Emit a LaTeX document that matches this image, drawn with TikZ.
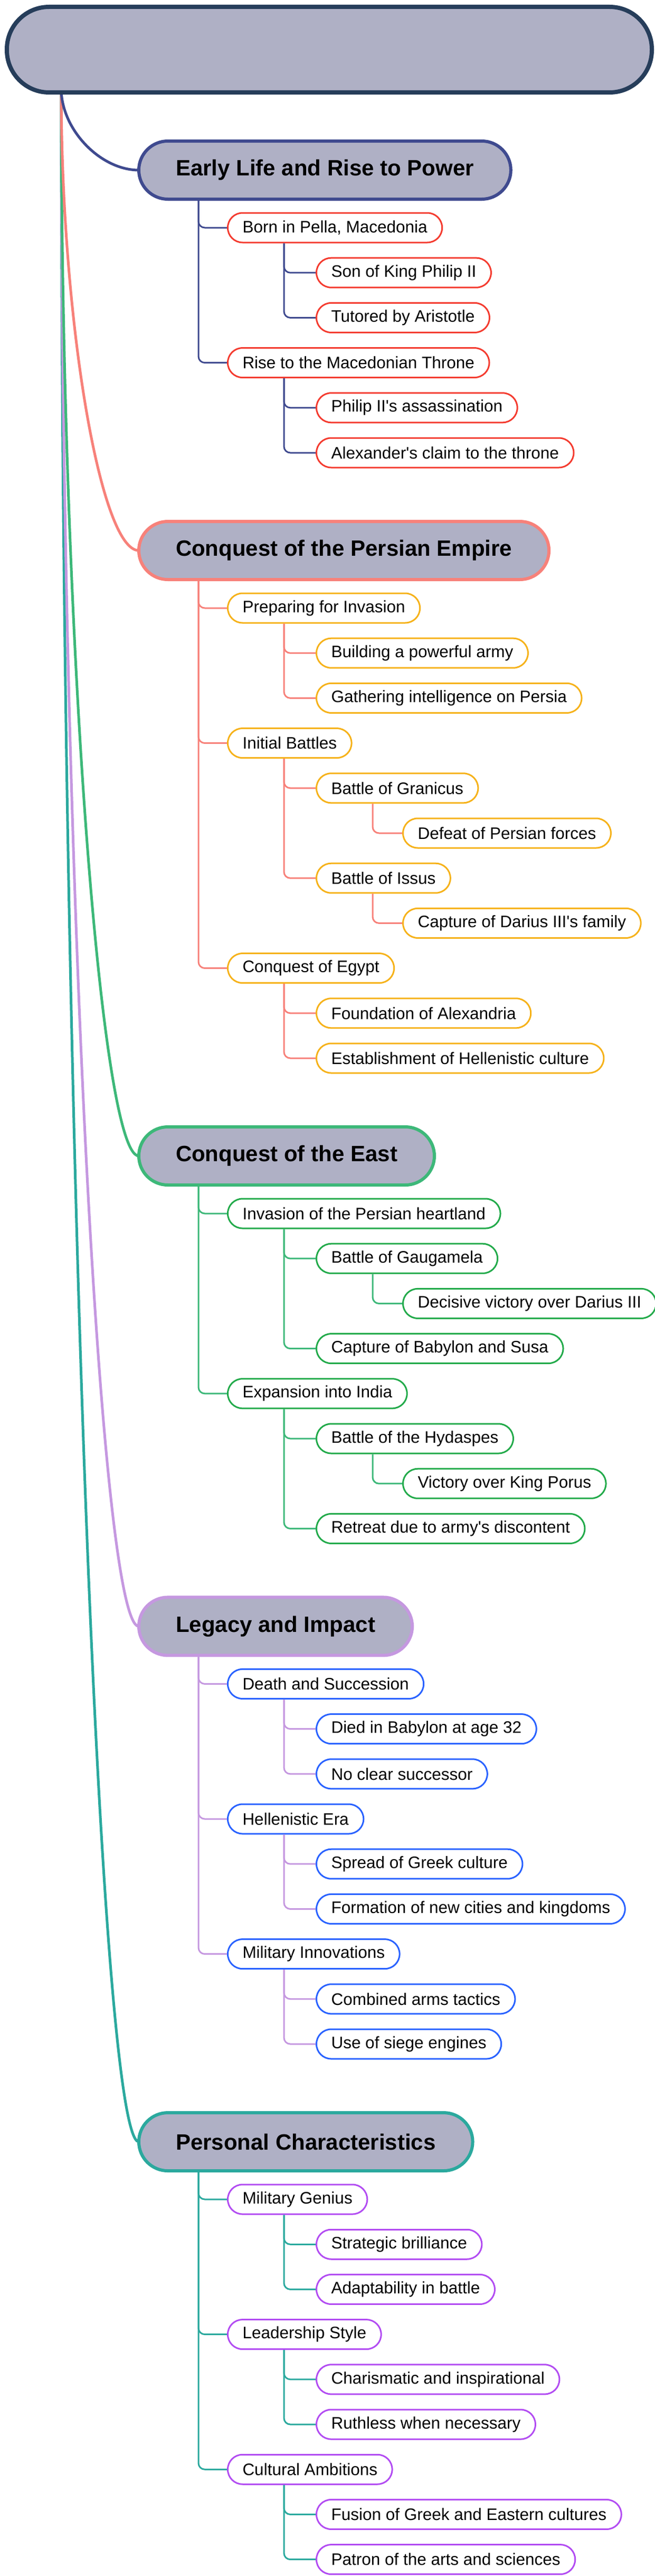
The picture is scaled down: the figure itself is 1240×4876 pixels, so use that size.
\documentclass[tikz,border=0pt]{standalone}
\usepackage{fontspec}
\setmainfont{Liberation Sans}
\definecolor{rootfill}{HTML}{AFB0C5}
\definecolor{rootdraw}{HTML}{263D5A}
\definecolor{cA}{HTML}{3F4A8F}
\definecolor{cB}{HTML}{F7817A}
\definecolor{cC}{HTML}{3DB879}
\definecolor{cD}{HTML}{C598E0}
\definecolor{cE}{HTML}{2BA99E}
\definecolor{kA}{HTML}{F43B2F}
\definecolor{kB}{HTML}{F6B21A}
\definecolor{kC}{HTML}{22AA4A}
\definecolor{kD}{HTML}{2962FF}
\definecolor{kE}{HTML}{B24CF2}
\newcommand{\hfont}{\fontsize{42}{48}\selectfont\bfseries}
\newcommand{\kfont}{\fontsize{31.5}{36}\selectfont}
\newcommand{\q}{\textquotesingle}
\tikzset{
 hdr/.style={draw=#1, fill=rootfill, line width=6pt, rounded corners=55pt, minimum height=110pt, inner xsep=70pt, anchor=west, font=\hfont},
 kid/.style={draw=#1, fill=white, line width=3pt, rounded corners=28pt, minimum height=56pt, inner xsep=28pt, anchor=west, font=\kfont},
 lk/.style={draw=#1, line width=3pt, rounded corners=12pt},
 rc/.style={draw=#1, line width=5pt, line cap=round},
}
\begin{document}
\begin{tikzpicture}[x=1pt,y=-1pt]
\useasboundingbox (0,0) rectangle (1240,4876);
% branch curves
\coordinate (r0) at (116,168);
\foreach \H/\c in {4054/cE,3078.4/cD,2188/cC,1042/cB,322/cA}{
 \pgfmathsetmacro{\mid}{168+0.5*(\H-168)}
 \draw[rc=\c] (r0) .. controls (116,\mid) and (190,\H) .. (263,\H);
}
\node[draw=rootdraw, fill=rootfill, line width=8pt, rounded corners=80pt, minimum height=162pt, minimum width=1222pt, anchor=north west] (root) at (9,9) {};

% Branch A
\node[hdr=cA] (a) at (260,322) {Early Life and Rise to Power};
\node[kid=kA] (a1) at (430,431) {Born in Pella, Macedonia};
\node[kid=kA] (a11) at (598,516.2) {Son of King Philip II};
\node[kid=kA] (a12) at (598,601.4) {Tutored by Aristotle};
\node[kid=kA] (a2) at (430,686.6) {Rise to the Macedonian Throne};
\node[kid=kA] (a21) at (598,771.8) {Philip II\q s assassination};
\node[kid=kA] (a22) at (598,857) {Alexander\q s claim to the throne};
\foreach \p/\ch in {a/a1,a/a2}{\draw[lk=cA] (\p.south west) ++(116,0) |- (\ch.west);}
\foreach \p/\ch in {a1/a11,a1/a12,a2/a21,a2/a22}{\draw[lk=cA] (\p.south west) ++(108,0) |- (\ch.west);}

% Branch B
\node[hdr=cB] (b) at (260,1042) {Conquest of the Persian Empire};
\node[kid=kB] (b1) at (430,1151) {Preparing for Invasion};
\node[kid=kB] (b11) at (598,1236.2) {Building a powerful army};
\node[kid=kB] (b12) at (598,1321.4) {Gathering intelligence on Persia};
\node[kid=kB] (b2) at (430,1406.6) {Initial Battles};
\node[kid=kB] (b21) at (598,1491.8) {Battle of Granicus};
\node[kid=kB] (b211) at (762,1577) {Defeat of Persian forces};
\node[kid=kB] (b22) at (598,1662.2) {Battle of Issus};
\node[kid=kB] (b221) at (762,1747.4) {Capture of Darius III\q s family};
\node[kid=kB] (b3) at (430,1832.6) {Conquest of Egypt};
\node[kid=kB] (b31) at (598,1917.8) {Foundation of Alexandria};
\node[kid=kB] (b32) at (598,2003) {Establishment of Hellenistic culture};
\foreach \p/\ch in {b/b1,b/b2,b/b3}{\draw[lk=cB] (\p.south west) ++(116,0) |- (\ch.west);}
\foreach \p/\ch in {b1/b11,b1/b12,b2/b21,b2/b22,b21/b211,b22/b221,b3/b31,b3/b32}{\draw[lk=cB] (\p.south west) ++(108,0) |- (\ch.west);}

% Branch C
\node[hdr=cC] (c) at (260,2188) {Conquest of the East};
\node[kid=kC] (c1) at (430,2297) {Invasion of the Persian heartland};
\node[kid=kC] (c11) at (598,2382.2) {Battle of Gaugamela};
\node[kid=kC] (c111) at (762,2467.4) {Decisive victory over Darius III};
\node[kid=kC] (c12) at (598,2552.6) {Capture of Babylon and Susa};
\node[kid=kC] (c2) at (430,2637.8) {Expansion into India};
\node[kid=kC] (c21) at (598,2723) {Battle of the Hydaspes};
\node[kid=kC] (c211) at (762,2808.2) {Victory over King Porus};
\node[kid=kC] (c22) at (598,2893.4) {Retreat due to army\q s discontent};
\foreach \p/\ch in {c/c1,c/c2}{\draw[lk=cC] (\p.south west) ++(116,0) |- (\ch.west);}
\foreach \p/\ch in {c1/c11,c1/c12,c11/c111,c2/c21,c2/c22,c21/c211}{\draw[lk=cC] (\p.south west) ++(108,0) |- (\ch.west);}

% Branch D
\node[hdr=cD] (d) at (260,3078.4) {Legacy and Impact};
\node[kid=kD] (d1) at (430,3187.4) {Death and Succession};
\node[kid=kD] (d11) at (598,3272.6) {Died in Babylon at age 32};
\node[kid=kD] (d12) at (598,3357.8) {No clear successor};
\node[kid=kD] (d2) at (430,3443) {Hellenistic Era};
\node[kid=kD] (d21) at (598,3528.2) {Spread of Greek culture};
\node[kid=kD] (d22) at (598,3613.4) {Formation of new cities and kingdoms};
\node[kid=kD] (d3) at (430,3698.6) {Military Innovations};
\node[kid=kD] (d31) at (598,3783.8) {Combined arms tactics};
\node[kid=kD] (d32) at (598,3869) {Use of siege engines};
\foreach \p/\ch in {d/d1,d/d2,d/d3}{\draw[lk=cD] (\p.south west) ++(116,0) |- (\ch.west);}
\foreach \p/\ch in {d1/d11,d1/d12,d2/d21,d2/d22,d3/d31,d3/d32}{\draw[lk=cD] (\p.south west) ++(108,0) |- (\ch.west);}

% Branch E
\node[hdr=cE] (e) at (260,4054) {Personal Characteristics};
\node[kid=kE] (e1) at (430,4163) {Military Genius};
\node[kid=kE] (e11) at (598,4248.2) {Strategic brilliance};
\node[kid=kE] (e12) at (598,4333.4) {Adaptability in battle};
\node[kid=kE] (e2) at (430,4418.6) {Leadership Style};
\node[kid=kE] (e21) at (598,4503.8) {Charismatic and inspirational};
\node[kid=kE] (e22) at (598,4589) {Ruthless when necessary};
\node[kid=kE] (e3) at (430,4674.2) {Cultural Ambitions};
\node[kid=kE] (e31) at (598,4759.4) {Fusion of Greek and Eastern cultures};
\node[kid=kE] (e32) at (598,4844.6) {Patron of the arts and sciences};
\foreach \p/\ch in {e/e1,e/e2,e/e3}{\draw[lk=cE] (\p.south west) ++(116,0) |- (\ch.west);}
\foreach \p/\ch in {e1/e11,e1/e12,e2/e21,e2/e22,e3/e31,e3/e32}{\draw[lk=cE] (\p.south west) ++(108,0) |- (\ch.west);}
\end{tikzpicture}
\end{document}
